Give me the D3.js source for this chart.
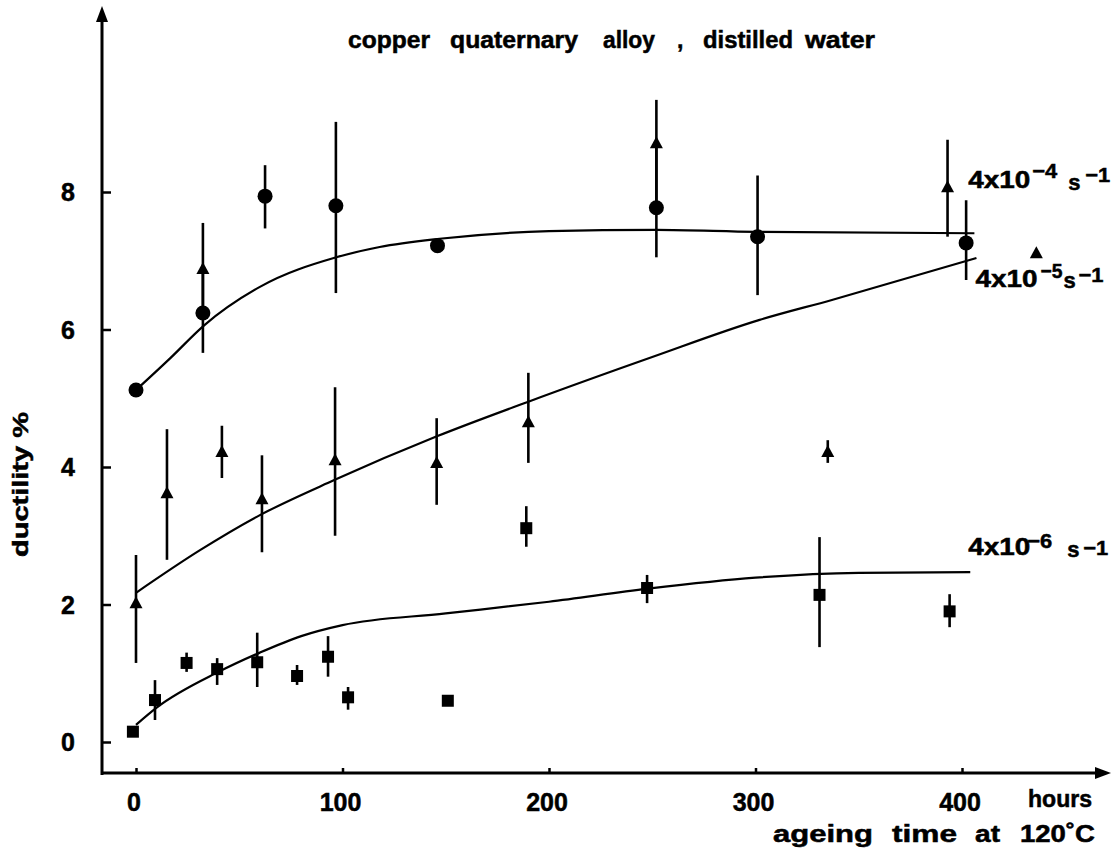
<!DOCTYPE html>
<html>
<head>
<meta charset="utf-8">
<script src="https://cdn.jsdelivr.net/npm/d3@7"></script>
<style>
  html, body { margin: 0; padding: 0; background: #fff; }
  svg { display: block; }
  text { font-family: "Liberation Sans", Arial, Helvetica, sans-serif; font-weight: bold; fill: #000; stroke: #000; stroke-width: 0.5px; }
</style>
</head>
<body>
<svg id="chart" width="1115" height="856"></svg>
<script>
// ---------- data ----------
const xTicks = [0, 100, 200, 300, 400];
const yTicks = [0, 2, 4, 6, 8];
const titleText = "copper quaternary alloy , distilled water";
const yTitle = "ductility %";
const xUnit = "hours";
const xTitle = "ageing time at 120\u02daC";

// [hours, ductility, errLow, errHigh]
const circles4e4 = [
  [0, 5.12, null, null], [32.4, 6.24, 5.66, 6.88], [62.5, 7.94, 7.47, 8.39],
  [96.8, 7.80, 6.53, 9.02], [146, 7.22, null, null], [252, 7.77, 7.05, 8.71],
  [301, 7.35, 6.50, 8.24], [402, 7.26, 6.72, 7.88]
];
const triangles4e5 = [
  [0, 2.02, 1.15, 2.72], [15, 3.62, 2.65, 4.55], [41.6, 4.22, 3.84, 4.60],
  [61, 3.53, 2.76, 4.17], [96.4, 4.10, 3.00, 5.16], [145.6, 4.06, 3.45, 4.71],
  [190, 4.65, 4.06, 5.37], [335, 4.22, 4.06, 4.39], [32.4, 6.88, 6.24, 7.55],
  [252, 8.71, 7.77, 9.34], [393, 8.07, 7.35, 8.76], [436, 7.11, null, null]
];
const squares4e6 = [
  [-1.5, 0.15, null, null], [9.2, 0.61, 0.32, 0.90], [24.5, 1.15, 1.02, 1.30],
  [39.3, 1.06, 0.83, 1.22], [58.7, 1.16, 0.80, 1.59], [78, 0.96, 0.83, 1.12],
  [93, 1.24, 0.95, 1.54], [102.7, 0.65, 0.47, 0.80], [151, 0.60, null, null],
  [189, 3.11, 2.84, 3.43], [247.5, 2.24, 2.02, 2.43], [331, 2.14, 1.38, 2.98],
  [394, 1.90, 1.67, 2.15]
];
// fitted curves (hand-drawn in original), [hours, ductility]
const curve4e4 = [[0,5.12],[16.5,5.58],[33,6.06],[60,6.62],[97,7.05],[118,7.2],[147,7.32],[200,7.43],[252,7.45],[300,7.42],[406,7.40]];
const curve4e5 = [[0,2.17],[31,2.79],[60,3.3],[96,3.81],[146,4.45],[190,4.95],[250,5.6],[302,6.14],[337,6.43],[407,7.04]];
const curve4e6 = [[0,0.25],[10,0.5],[40,1.02],[60,1.3],[80,1.54],[100,1.7],[150,1.87],[200,2.04],[248,2.23],[300,2.39],[350,2.46],[404,2.47]];

const rateLabels = [
  { mant: "4x10", exp: "\u22124", at: [403, 8.06] },
  { mant: "4x10", exp: "\u22125", at: [406.5, 6.62] },
  { mant: "4x10", exp: "\u22126", at: [403, 2.72] }
];

// ---------- layout ----------
const svg = d3.select("#chart");
const x = d3.scaleLinear().domain([0, 400]).range([136, 962]);
const y = d3.scaleLinear().domain([0, 8]).range([742, 192]);
const axisX0 = 102, axisY0 = 773;

// axes lines with arrows
svg.append("line").attr("x1", axisX0).attr("y1", axisY0 + 2).attr("x2", axisX0).attr("y2", 18)
  .attr("stroke", "#000").attr("stroke-width", 3);
svg.append("path").attr("d", `M${axisX0},6 L${axisX0-6},22 L${axisX0+6},22 Z`).attr("fill", "#000");
svg.append("line").attr("x1", axisX0 - 1).attr("y1", axisY0).attr("x2", 1098).attr("y2", axisY0)
  .attr("stroke", "#000").attr("stroke-width", 3);
svg.append("path").attr("d", `M1111,${axisY0} L1095,${axisY0-6} L1095,${axisY0+6} Z`).attr("fill", "#000");

// ticks
const yAxis = d3.axisRight(y).tickValues(yTicks).tickSize(9).tickFormat("");
const gy = svg.append("g").attr("transform", `translate(${axisX0},0)`).call(yAxis);
gy.select(".domain").remove();
gy.selectAll("line").attr("stroke", "#000").attr("stroke-width", 2.5);
const xAxis = d3.axisTop(x).tickValues(xTicks).tickSize(5).tickFormat("");
const gx = svg.append("g").attr("transform", `translate(0,${axisY0})`).call(xAxis);
gx.select(".domain").remove();
gx.selectAll("line").attr("stroke", "#000").attr("stroke-width", 2.5);

// tick labels
svg.selectAll(".ylab").data(yTicks).enter().append("text")
  .attr("x", 75).attr("y", d => y(d) + 9).attr("text-anchor", "end")
  .attr("font-size", 25).text(d => d);
svg.selectAll(".xlab").data(xTicks).enter().append("text")
  .attr("x", d => x(d) - 2).attr("y", 811).attr("text-anchor", "middle")
  .attr("font-size", 25).text(d => d);

// title words
const titleWords = titleText.split(" ");
const titlePos = [[348, 82], [450, 128], [603, 52], [677, 7], [703, 90], [805, 70]];
titleWords.forEach((w, i) => {
  const t = svg.append("text").attr("x", titlePos[i][0]).attr("y", 48).attr("font-size", 23).text(w);
  if (w.length > 1) t.attr("textLength", titlePos[i][1]).attr("lengthAdjust", "spacingAndGlyphs");
});

// y title
svg.append("text").attr("transform", "translate(28,557) rotate(-90)")
  .attr("font-size", 22).attr("textLength", 145).attr("lengthAdjust", "spacingAndGlyphs").text(yTitle);

// x title
svg.append("text").attr("x", 1028).attr("y", 807).attr("font-size", 23)
  .attr("textLength", 64).attr("lengthAdjust", "spacingAndGlyphs").text(xUnit);
const xtWords = xTitle.split(" ");
const xtPos = [[773, 100], [892, 65], [975, 25], [1020, 75]];
xtWords.forEach((w, i) => {
  svg.append("text").attr("x", xtPos[i][0]).attr("y", 842).attr("font-size", 23)
    .attr("textLength", xtPos[i][1]).attr("lengthAdjust", "spacingAndGlyphs").text(w);
});

// curves
const line = d3.line().x(d => x(d[0])).y(d => y(d[1])).curve(d3.curveMonotoneX);
[curve4e4, curve4e5, curve4e6].forEach(c => {
  svg.append("path").attr("d", line(c)).attr("fill", "none")
    .attr("stroke", "#000").attr("stroke-width", 2.2);
});

// error bars
function errBars(data) {
  svg.append("g").selectAll("line").data(data.filter(d => d[2] !== null)).enter().append("line")
    .attr("x1", d => x(d[0])).attr("x2", d => x(d[0]))
    .attr("y1", d => y(d[2])).attr("y2", d => y(d[3]))
    .attr("stroke", "#000").attr("stroke-width", 2.6);
}
errBars(circles4e4); errBars(triangles4e5); errBars(squares4e6);

// markers
svg.append("g").selectAll("circle").data(circles4e4).enter().append("circle")
  .attr("cx", d => x(d[0])).attr("cy", d => y(d[1])).attr("r", 7.5).attr("fill", "#000");
svg.append("g").selectAll("path").data(triangles4e5).enter().append("path")
  .attr("d", d => { const cx = x(d[0]), cy = y(d[1]); return `M${cx},${cy-7} L${cx-6.5},${cy+5} L${cx+6.5},${cy+5} Z`; })
  .attr("fill", "#000");
svg.append("g").selectAll("rect").data(squares4e6).enter().append("rect")
  .attr("x", d => x(d[0]) - 6).attr("y", d => y(d[1]) - 6).attr("width", 12).attr("height", 12)
  .attr("fill", "#000");

// rate labels: offsets of exponent, "s" and "-1" relative to the mantissa
const labelOffsets = [
  { e: [64, -10, 25], s: [100, 2], m: [117, -6] },
  { e: [65, -9, 22], s: [88, 1], m: [103, -5] },
  { e: [59, -7, 25], s: [99, 2], m: [115, 0] }
];
rateLabels.forEach((l, i) => {
  const px = x(l.at[0]), py = y(l.at[1]), o = labelOffsets[i];
  svg.append("text").attr("x", px).attr("y", py).attr("font-size", 23)
    .attr("textLength", 62).attr("lengthAdjust", "spacingAndGlyphs").text(l.mant);
  svg.append("text").attr("x", px + o.e[0]).attr("y", py + o.e[1]).attr("font-size", 21)
    .attr("textLength", o.e[2]).attr("lengthAdjust", "spacingAndGlyphs").text(l.exp);
  svg.append("text").attr("x", px + o.s[0]).attr("y", py + o.s[1]).attr("font-size", 22).text("s");
  svg.append("text").attr("x", px + o.m[0]).attr("y", py + o.m[1]).attr("font-size", 21)
    .attr("textLength", 25).attr("lengthAdjust", "spacingAndGlyphs").text("\u22121");
});
</script>
</body>
</html>
